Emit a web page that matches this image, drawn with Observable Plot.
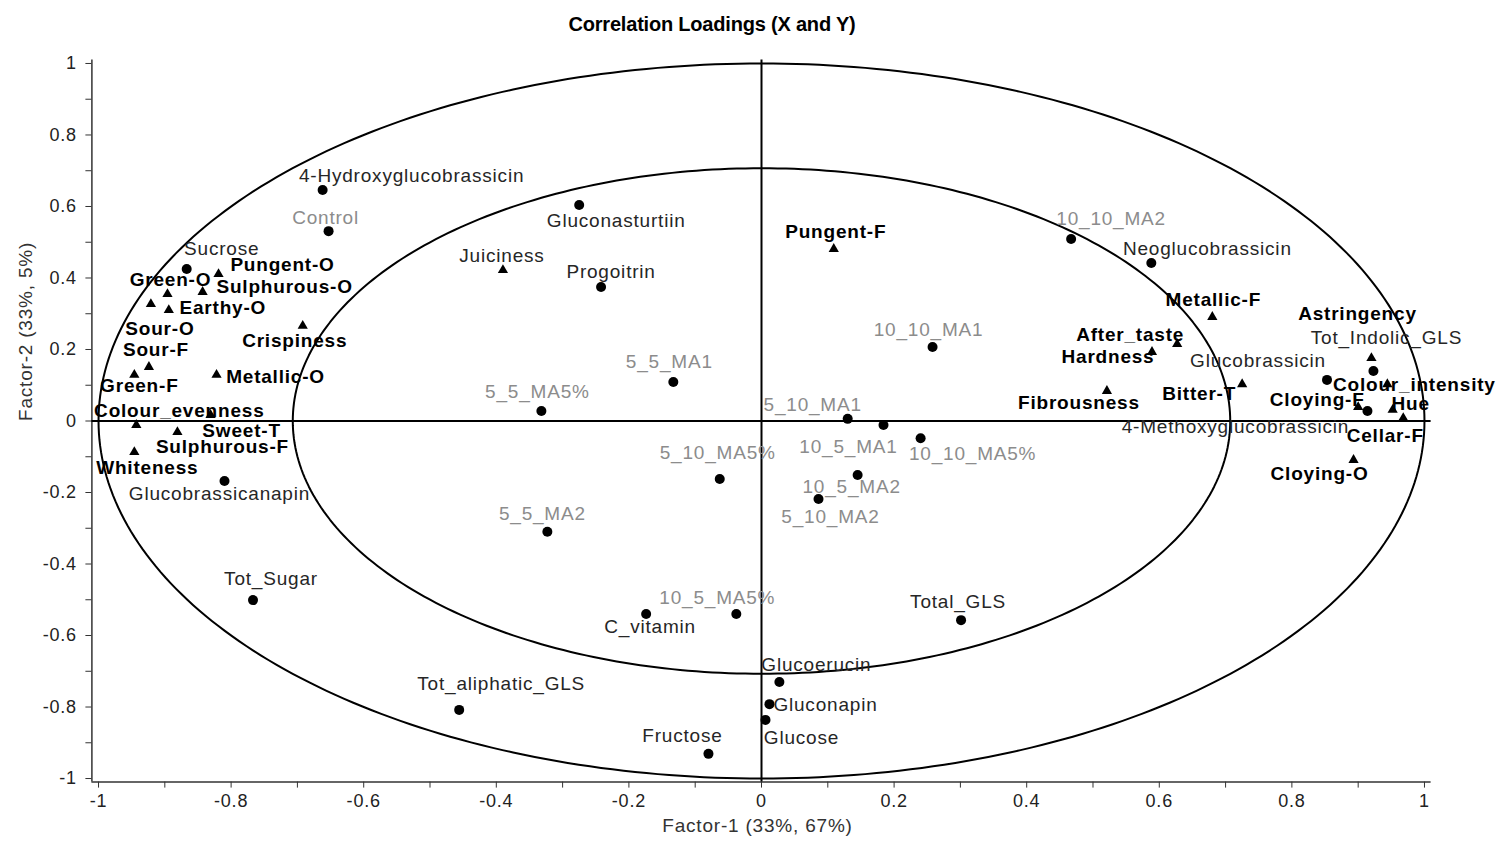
<!DOCTYPE html>
<html>
<head>
<meta charset="utf-8">
<script src="https://cdn.jsdelivr.net/npm/d3@7"></script>
<script src="https://cdn.jsdelivr.net/npm/@observablehq/plot@0.6"></script>
<style>
  body { margin: 0; background: #fff; font-family: "Liberation Sans", Arial, sans-serif; }
  #wrap { position: relative; width: 1502px; height: 844px; }
  #title { position: absolute; top: 0; left: 712px; transform: translateX(-50%); height: 48px; line-height: 48px;
           font-weight: bold; font-size: 20px; color: #000; white-space: nowrap; letter-spacing: -0.2px; }
  #chart { position: absolute; top: 48px; left: 0; }
  #chart svg text { letter-spacing: 0.8px; }
</style>
</head>
<body>
<div id="wrap">
  <div id="title">Correlation Loadings (X and Y)</div>
  <div id="chart"></div>
</div>
<script>
// ---- Data: X variables (chemistry, circles, dark labels)
const chemNames = ["4-Hydroxyglucobrassicin","Gluconasturtiin","Sucrose","Progoitrin","Neoglucobrassicin",
  "Glucobrassicanapin","Tot_Sugar","Tot_aliphatic_GLS","C_vitamin","Total_GLS","Glucoerucin","Gluconapin",
  "Glucose","Fructose","Glucobrassicin","Tot_Indolic_GLS","4-Methoxyglucobrassicin"];
const chemF1 = [-0.662,-0.275,-0.867,-0.242,0.588,-0.810,-0.767,-0.456,-0.174,0.301,0.027,0.012,0.006,-0.080,0.853,0.923,0.914];
const chemF2 = [0.646,0.604,0.425,0.375,0.442,-0.168,-0.501,-0.808,-0.540,-0.557,-0.730,-0.792,-0.836,-0.931,0.115,0.140,0.028];

// ---- Data: design samples (circles, grey labels)
const designNames = ["Control","10_10_MA2","10_10_MA1","5_5_MA1","5_5_MA5%","5_10_MA1","10_5_MA1","10_10_MA5%",
  "10_5_MA2","5_10_MA2","5_10_MA5%","5_5_MA2","10_5_MA5%"];
const designF1 = [-0.653,0.467,0.258,-0.133,-0.332,0.130,0.184,0.240,0.145,0.086,-0.063,-0.323,-0.038];
const designF2 = [0.531,0.509,0.207,0.109,0.028,0.006,-0.011,-0.048,-0.151,-0.218,-0.162,-0.310,-0.540];

// ---- Data: Y variables (sensory, triangles, bold labels)
const sensoryNames = ["Pungent-F","Metallic-F","After_taste","Hardness","Fibrousness","Bitter-T","Astringency",
  "Colour_intensity","Cloying-F","Hue","Cellar-F","Cloying-O","Juiciness","Pungent-O","Green-O","Sulphurous-O",
  "Earthy-O","Sour-O","Sour-F","Green-F","Metallic-O","Crispiness","Colour_evenness","Sweet-T","Sulphurous-F","Whiteness"];
const sensoryF1 = [0.109,0.680,0.627,0.589,0.521,0.725,0.920,0.944,0.900,0.952,0.968,0.893,-0.390,-0.819,-0.896,-0.843,
  -0.894,-0.921,-0.924,-0.946,-0.822,-0.692,-0.943,-0.831,-0.881,-0.946];
const sensoryF2 = [0.481,0.291,0.215,0.193,0.084,0.103,0.176,0.103,0.039,0.031,0.008,-0.109,0.422,0.411,0.355,0.361,
  0.310,0.327,0.151,0.129,0.129,0.266,-0.011,0.017,-0.031,-0.087];
// sensory attributes whose label is drawn in regular weight
const sensoryRegular = ["Juiciness"];

// ---- Axis ticks
const majorTicks = [-1,-0.8,-0.6,-0.4,-0.2,0,0.2,0.4,0.6,0.8,1];
const minorTicks = [-0.9,-0.7,-0.5,-0.3,-0.1,0.1,0.3,0.5,0.7,0.9];
const circleRadii = [1, 0.707];

// ---- Label placement (pixel offsets from the marker), layout only
const chemDx = [89,37,35,10,56,-5,18,42,4,-3,37,56,36,-26,-69,13,-132];
const chemDy = [-14,16,-20,-15,-14,13,-21,-26,13,-18,-17,1,18,-18,-19,-33,16];
const designDx = [-3,40,-4,-4,-4,-35,-35,52,-6,12,-2,-5,-19];
const designDy = [-13,-20,-17,-20,-19,-14,22,16,12,18,-26,-18,-16];
const sensoryDx = [2,1,-47,-44,-28,-43,-14,27,-41,18,-18,-34,-1,64,3,82,54,9,7,5,59,-8,43,31,45,13];
const sensoryDy = [-17,-17,-9,5,12,10,-44,1,-7,-6,18,14,-14,-9,-14,-5,-2,25,-17,11,2,15,-14,16,15,16];

const chem = chemNames.map((name, i) => ({name, f1: chemF1[i], f2: chemF2[i], dx: chemDx[i], dy: chemDy[i]}));
const design = designNames.map((name, i) => ({name, f1: designF1[i], f2: designF2[i], dx: designDx[i], dy: designDy[i]}));
const sensory = sensoryNames.map((name, i) => ({name, f1: sensoryF1[i], f2: sensoryF2[i], dx: sensoryDx[i], dy: sensoryDy[i]}));
const sensoryBoldRows = sensory.filter(d => !sensoryRegular.includes(d.name));
const sensoryRegularRows = sensory.filter(d => sensoryRegular.includes(d.name));

const ellipses = circleRadii.flatMap(r => d3.range(0, 361).map(a => ({r, x: r * Math.cos(a * Math.PI / 180), y: r * Math.sin(a * Math.PI / 180)})));

const fmt = d => String(d);

const labelMarks = (rows, opts) => rows.map(r => Plot.text([r], {x: "f1", y: "f2", text: "name", dx: r.dx, dy: r.dy, fontSize: 19, ...opts}));

const chart = Plot.plot({
  width: 1502,
  height: 796,
  marginLeft: 91.4,
  marginRight: 71.4,
  marginTop: 11.4,
  marginBottom: 62.4,
  x: {domain: [-1.01, 1.01], label: null},
  y: {domain: [-1.01, 1.01], label: null},
  style: {fontFamily: "'Liberation Sans', Arial, sans-serif", fontSize: "18px", color: "#222", background: "#fff", overflow: "visible"},
  marks: [
    Plot.axisX(majorTicks, {anchor: "bottom", tickSize: 6, tickPadding: 6, tickFormat: fmt, label: null, stroke: "#333", fontSize: 18, fill: "#222"}),
    Plot.axisX(minorTicks, {anchor: "bottom", tickSize: 6, tickFormat: () => "", label: null, stroke: "#333"}),
    Plot.axisY(majorTicks, {anchor: "left", tickSize: 6, tickPadding: 9, tickFormat: fmt, label: null, stroke: "#333", fontSize: 18, fill: "#222"}),
    Plot.axisY(minorTicks, {anchor: "left", tickSize: 6, tickFormat: () => "", label: null, stroke: "#333"}),
    Plot.ruleX([-1.01], {stroke: "#333", strokeWidth: 1.5}),
    Plot.ruleY([-1.01], {stroke: "#333", strokeWidth: 1.5}),
    Plot.line(ellipses, {x: "x", y: "y", z: "r", stroke: "#000", strokeWidth: 2}),
    Plot.ruleX([0], {stroke: "#000", strokeWidth: 2}),
    Plot.ruleY([0], {stroke: "#000", strokeWidth: 2}),
    Plot.dot(chem, {x: "f1", y: "f2", r: 5, fill: "#000", stroke: null}),
    Plot.dot(design, {x: "f1", y: "f2", r: 5, fill: "#000", stroke: null}),
    Plot.dot(sensory, {x: "f1", y: "f2", r: 3.8, symbol: "triangle", fill: "#000", stroke: null}),
    ...labelMarks(chem, {fill: "#262626"}),
    ...labelMarks(design, {fill: "#8c8c8c"}),
    ...labelMarks(sensoryRegularRows, {fill: "#262626"}),
    ...labelMarks(sensoryBoldRows, {fill: "#000", fontWeight: "bold"}),
    Plot.text(["Factor-1 (33%, 67%)"], {text: d => d, frameAnchor: "bottom", dy: 50, dx: -4, fontSize: 19, fill: "#333"}),
    Plot.text(["Factor-2 (33%, 5%)"], {text: d => d, frameAnchor: "left", dx: -66, rotate: -90, fontSize: 19, fill: "#333"})
  ]
});
document.getElementById("chart").appendChild(chart);
</script>
</body>
</html>
